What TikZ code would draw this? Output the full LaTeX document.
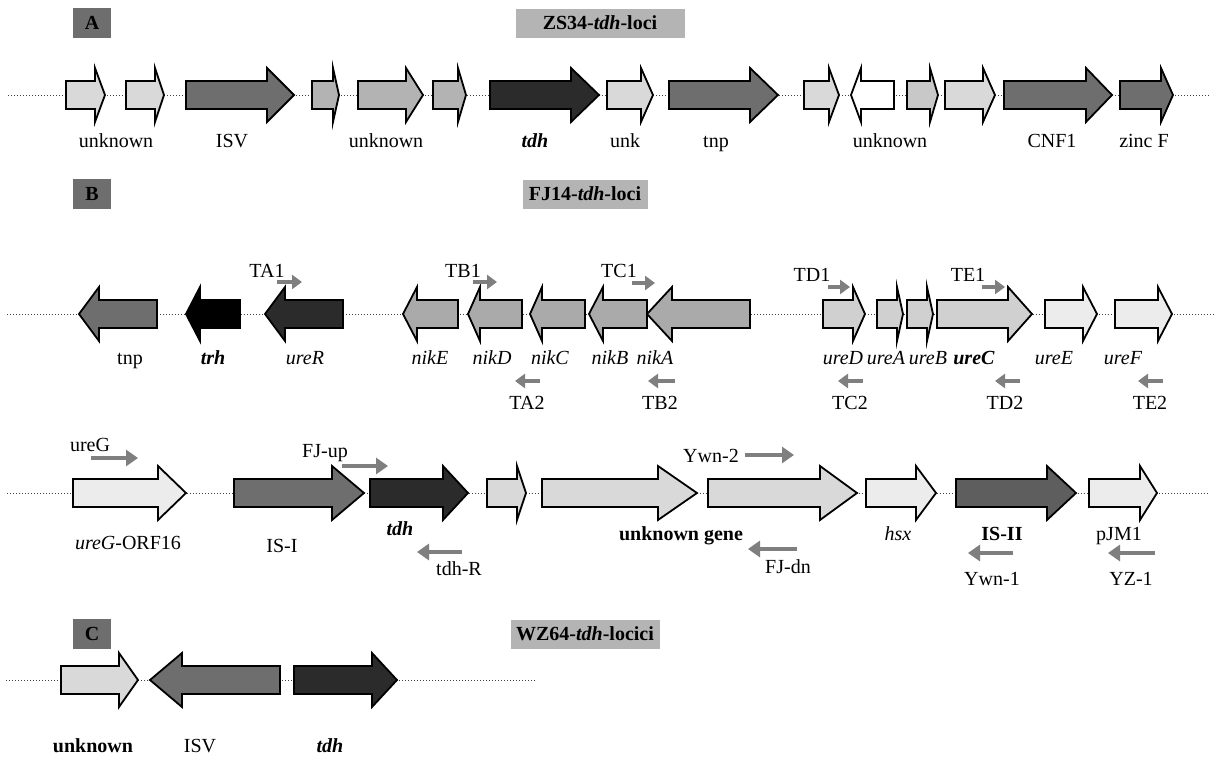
\documentclass[tikz,border=0pt]{standalone}
\usepackage{fontspec}
\setmainfont{Liberation Serif}
\usetikzlibrary{arrows.meta}
\definecolor{lightg}{HTML}{D9D9D9}
\definecolor{paleg}{HTML}{ECECEC}
\definecolor{ureg}{HTML}{D0D0D0}
\definecolor{midg}{HTML}{B3B3B3}
\definecolor{nikg}{HTML}{AAAAAA}
\definecolor{smg}{HTML}{C8C8C8}
\definecolor{darkg}{HTML}{6E6E6E}
\definecolor{isg}{HTML}{5E5E5E}
\definecolor{blackg}{HTML}{2B2B2B}
\definecolor{primg}{HTML}{7F7F7F}
\definecolor{titleg}{HTML}{B4B4B4}
\newcommand\genearrow[5]{%
  \filldraw[gene,fill=#5] (#1,#4-14) -- (#2,#4-14) -- (#2,#4-27) -- (#3,#4) -- (#2,#4+27) -- (#2,#4+14) -- (#1,#4+14) -- cycle;}
\begin{document}
\begin{tikzpicture}[x=0.5pt,y=-0.5pt,
  gene/.style={draw=black,line width=0.9pt,line join=miter},
  backbone/.style={draw=black!75,line width=0.5pt,densely dotted},
  primer/.style={draw=primg,line width=1.8pt,-{Triangle[length=6pt,width=8pt]}},
  primers/.style={draw=primg,line width=1.6pt,-{Triangle[length=5pt,width=7pt]}},
  lbl/.style={font=\fontsize{10}{12}\selectfont,inner sep=0pt,anchor=base,yshift=-3.5pt},
  secbox/.style={fill=darkg,minimum width=19pt,minimum height=15pt,inner sep=0pt,font=\fontsize{10}{12}\selectfont\bfseries},
  titlebox/.style={fill=titleg,minimum height=14.5pt,inner sep=0pt,font=\fontsize{10}{12}\selectfont\bfseries}]
\useasboundingbox (0,0) rectangle (1223,760);
\fill[white] (0,0) rectangle (1223,760);
% ---------------- Section A
\node[secbox] (boxA) at (92,23) {A};
\node[titlebox,minimum width=84.5pt] (titA) at (600,23) {ZS34-\textit{tdh}-loci};
\coordinate (aL) at (8,95); \coordinate (aR) at (1209,95);
\draw[backbone] (aL) -- (aR);
\genearrow{66}{95}{105}{95}{lightg}
\genearrow{126}{155}{164}{95}{lightg}
\genearrow{186}{267}{294}{95}{darkg}
\genearrow{312}{333}{339}{95}{midg}
\genearrow{358}{406}{423}{95}{midg}
\genearrow{433}{458}{466}{95}{midg}
\genearrow{490}{571}{599}{95}{blackg}
\genearrow{607}{641}{653}{95}{lightg}
\genearrow{669}{750}{778}{95}{darkg}
\genearrow{804}{829}{839}{95}{lightg}
\genearrow{894}{861}{851}{95}{white}
\genearrow{907}{930}{938}{95}{smg}
\genearrow{945}{983}{995}{95}{lightg}
\genearrow{1004}{1086}{1112}{95}{darkg}
\genearrow{1120}{1161}{1173}{95}{darkg}
\node[lbl] (la1) at (116,140) {unknown};
\node[lbl] (la2) at (232,140) {ISV};
\node[lbl] (la3) at (386,140) {unknown};
\node[lbl] (la4) at (535,140) {\textbf{\textit{tdh}}};
\node[lbl] (la5) at (625,140) {unk};
\node[lbl] (la6) at (716,140) {tnp};
\node[lbl] (la7) at (890,140) {unknown};
\node[lbl] (la8) at (1052,140) {CNF1};
\node[lbl] (la9) at (1144,140) {zinc F};
% ---------------- Section B, row 1
\node[secbox] (boxB) at (92,194) {B};
\node[titlebox,minimum width=62.5pt] (titB) at (585,194) {FJ14-\textit{tdh}-loci};
\coordinate (bL) at (7,314); \coordinate (bR) at (1215,314);
\draw[backbone] (bL) -- (bR);
\genearrow{157}{99}{79}{314}{darkg}
\genearrow{240}{200}{186}{314}{black}
\genearrow{343}{285}{265}{314}{blackg}
\genearrow{458}{417}{403}{314}{nikg}
\genearrow{522}{480}{468}{314}{nikg}
\genearrow{585}{542}{530}{314}{nikg}
\genearrow{647}{603}{589}{314}{nikg}
\genearrow{750}{672}{647}{314}{nikg}
\genearrow{823}{853}{865}{314}{ureg}
\genearrow{877}{897}{903}{314}{ureg}
\genearrow{907}{927}{933}{314}{ureg}
\genearrow{937}{1008}{1032}{314}{ureg}
\genearrow{1045}{1083}{1097}{314}{paleg}
\genearrow{1115}{1158}{1172}{314}{paleg}
\node[lbl] (lb1) at (130,357) {tnp};
\node[lbl] (lb2) at (213,357) {\textbf{\textit{trh}}};
\node[lbl] (lb3) at (305,357) {\textit{ureR}};
\node[lbl] (lb4) at (430,357) {\textit{nikE}};
\node[lbl] (lb5) at (492,357) {\textit{nikD}};
\node[lbl] (lb6) at (550,357) {\textit{nikC}};
\node[lbl] (lb7) at (610,357) {\textit{nikB}};
\node[lbl] (lb8) at (655,357) {\textit{nikA}};
\node[lbl] (lb9) at (843,357) {\textit{ureD}};
\node[lbl] (lb10) at (886,357) {\textit{ureA}};
\node[lbl] (lb11) at (928,357) {\textit{ureB}};
\node[lbl] (lb12) at (974,357) {\textbf{\textit{ureC}}};
\node[lbl] (lb13) at (1054,357) {\textit{ureE}};
\node[lbl] (lb14) at (1123,357) {\textit{ureF}};
% primers above row 1
\node[lbl] (pTA1) at (267,270) {TA1};
\coordinate (pTA1a) at (277,282); \coordinate (pTA1b) at (302,282);
\draw[primers] (pTA1a) -- (pTA1b);
\node[lbl] (pTB1) at (463,270) {TB1};
\coordinate (pTB1a) at (473,282); \coordinate (pTB1b) at (497,282);
\draw[primers] (pTB1a) -- (pTB1b);
\node[lbl] (pTC1) at (619,270) {TC1};
\coordinate (pTC1a) at (632,283); \coordinate (pTC1b) at (655,283);
\draw[primers] (pTC1a) -- (pTC1b);
\node[lbl] (pTD1) at (812,274) {TD1};
\coordinate (pTD1a) at (828,287); \coordinate (pTD1b) at (850,287);
\draw[primers] (pTD1a) -- (pTD1b);
\node[lbl] (pTE1) at (968,274) {TE1};
\coordinate (pTE1a) at (982,287); \coordinate (pTE1b) at (1005,287);
\draw[primers] (pTE1a) -- (pTE1b);
% primers below row 1
\coordinate (pTA2a) at (540,381); \coordinate (pTA2b) at (515,381);
\draw[primers] (pTA2a) -- (pTA2b);
\node[lbl] (pTA2) at (527,402) {TA2};
\coordinate (pTB2a) at (675,381); \coordinate (pTB2b) at (648,381);
\draw[primers] (pTB2a) -- (pTB2b);
\node[lbl] (pTB2) at (660,402) {TB2};
\coordinate (pTC2a) at (863,381); \coordinate (pTC2b) at (838,381);
\draw[primers] (pTC2a) -- (pTC2b);
\node[lbl] (pTC2) at (850,402) {TC2};
\coordinate (pTD2a) at (1020,381); \coordinate (pTD2b) at (995,381);
\draw[primers] (pTD2a) -- (pTD2b);
\node[lbl] (pTD2) at (1005,402) {TD2};
\coordinate (pTE2a) at (1163,381); \coordinate (pTE2b) at (1138,381);
\draw[primers] (pTE2a) -- (pTE2b);
\node[lbl] (pTE2) at (1150,402) {TE2};
% ---------------- Section B, row 2
\coordinate (cL) at (7,493); \coordinate (cR) at (1209,493);
\draw[backbone] (cL) -- (cR);
\genearrow{73}{158}{186}{493}{paleg}
\genearrow{234}{332}{364}{493}{darkg}
\genearrow{370}{443}{468}{493}{blackg}
\genearrow{487}{517}{526}{493}{lightg}
\genearrow{542}{658}{697}{493}{lightg}
\genearrow{708}{820}{857}{493}{lightg}
\genearrow{866}{916}{936}{493}{paleg}
\genearrow{956}{1047}{1076}{493}{isg}
\genearrow{1089}{1140}{1157}{493}{paleg}
\node[lbl] (lc1) at (128,542) {\textit{ureG}-ORF16};
\node[lbl] (lc2) at (282,545) {IS-I};
\node[lbl] (lc3) at (400,528) {\textbf{\textit{tdh}}};
\node[lbl] (lc4) at (681,533) {\textbf{unknown gene}};
\node[lbl] (lc5) at (898,533) {\textit{hsx}};
\node[lbl] (lc6) at (1002,533) {\textbf{IS-II}};
\node[lbl] (lc7) at (1119,533) {pJM1};
\node[lbl] (pureG) at (90,444) {ureG};
\coordinate (pureGa) at (91,458); \coordinate (pureGb) at (138,458);
\draw[primer] (pureGa) -- (pureGb);
\node[lbl] (pFJup) at (325,450) {FJ-up};
\coordinate (pFJupa) at (342,466); \coordinate (pFJupb) at (388,466);
\draw[primer] (pFJupa) -- (pFJupb);
\coordinate (ptdhRa) at (462,552); \coordinate (ptdhRb) at (417,552);
\draw[primer] (ptdhRa) -- (ptdhRb);
\node[lbl] (ptdhR) at (459,568) {tdh-R};
\node[lbl] (pYwn2) at (711,455) {Ywn-2};
\coordinate (pYwn2a) at (745,455); \coordinate (pYwn2b) at (794,455);
\draw[primer] (pYwn2a) -- (pYwn2b);
\coordinate (pFJdna) at (797,549); \coordinate (pFJdnb) at (748,549);
\draw[primer] (pFJdna) -- (pFJdnb);
\node[lbl] (pFJdn) at (788,566) {FJ-dn};
\coordinate (pYwn1a) at (1013,553); \coordinate (pYwn1b) at (968,553);
\draw[primer] (pYwn1a) -- (pYwn1b);
\node[lbl] (pYwn1) at (992,578) {Ywn-1};
\coordinate (pYZ1a) at (1155,553); \coordinate (pYZ1b) at (1108,553);
\draw[primer] (pYZ1a) -- (pYZ1b);
\node[lbl] (pYZ1) at (1131,578) {YZ-1};
% ---------------- Section C
\node[secbox] (boxC) at (92,634) {C};
\node[titlebox,minimum width=74.5pt] (titC) at (585,634) {WZ64-\textit{tdh}-locici};
\coordinate (dL) at (6,680); \coordinate (dR) at (537,680);
\draw[backbone] (dL) -- (dR);
\genearrow{61}{119}{138}{680}{lightg}
\genearrow{280}{182}{150}{680}{darkg}
\genearrow{294}{372}{397}{680}{blackg}
\node[lbl] (ld1) at (93,745) {\textbf{unknown}};
\node[lbl] (ld2) at (200,745) {ISV};
\node[lbl] (ld3) at (330,745) {\textbf{\textit{tdh}}};
\end{tikzpicture}
\end{document}
